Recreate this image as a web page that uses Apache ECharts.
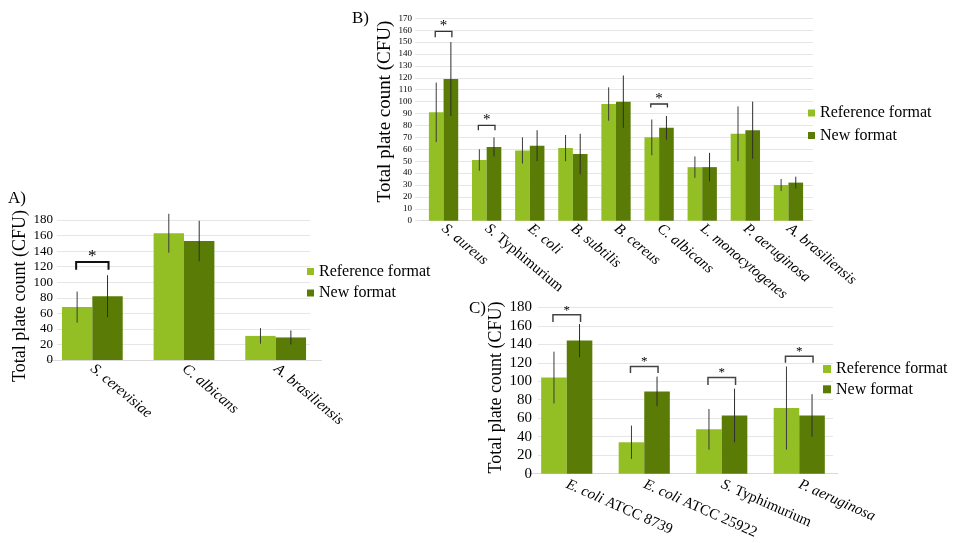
<!DOCTYPE html>
<html>
<head>
<meta charset="utf-8">
<script src="https://cdn.jsdelivr.net/npm/echarts@6/dist/echarts.min.js"></script>
<style>html,body{margin:0;padding:0;background:#fff}#c{width:957px;height:543px}</style>
</head>
<body>
<div id="c"></div>
<script>
// ---------- Data ----------
const seriesNames = ['Reference format', 'New format'];

// Panel A
const catsA = ['S. cerevisiae', 'C. albicans', 'A. brasiliensis'];
const refA = [68, 163, 31];
const newA = [82, 153, 29];
const refAErr = [20, 25, 10];
const newAErr = [27, 26, 9];
const sigA = [[0, 126, 116]]; // [category, bracket top, bracket foot]

// Panel B
const catsB = ['S. aureus', 'S. Typhimurium', 'E. coli', 'B. subtilis', 'B. cereus', 'C. albicans', 'L. monocytogenes', 'P. aeruginosa', 'A. brasiliensis'];
const refB = [91, 51, 59, 61, 98, 70, 45, 73, 30];
const newB = [119, 62, 63, 56, 100, 78, 45, 76, 32];
const refBErr = [25, 9, 11, 11, 14, 15, 9, 23, 5];
const newBErr = [31, 8, 13, 17, 22, 10, 12, 24, 5];
const sigB = [[0, 159, 154], [1, 80, 76], [5, 98, 95]];

// Panel C
const catsC = ['E. coli ATCC 8739', 'E. coli ATCC 25922', 'S. Typhimurium', 'P. aeruginosa'];
const refC = [104, 34, 48, 71];
const newC = [144, 89, 63, 63];
const refCErr = [28, 18, 22, 45];
const newCErr = [18, 16, 29, 23];
const sigC = [[0, 172, 164], [1, 116, 109], [2, 104, 96], [3, 127, 120]];

// ---------- Styling ----------
const SERIF = '"Liberation Serif", "DejaVu Serif", serif';
const COL_REF = '#93bf25';
const COL_NEW = '#5a7c07';
const YTITLE = 'Total plate count (CFU)';

function fmtCat(name) {
  let it = name, rest = '';
  const i = name.indexOf(' ATCC');
  if (i >= 0) { it = name.slice(0, i); rest = name.slice(i); }
  else if (name.indexOf(' Typhimurium') >= 0) { it = 'S.'; rest = name.slice(2); }
  return '{i|' + it + '}' + (rest ? '{n|' + rest + '}' : '');
}

function errRender(sign, gapPct, color) {
  return function (params, api) {
    const c = api.value(0);
    const lo = api.coord([c, api.value(1)]);
    const hi = api.coord([c, api.value(2)]);
    const band = api.size([1, 0])[0];
    const off = sign * band * (1 - gapPct) / 4;
    return { type: 'line', shape: { x1: lo[0] + off, y1: lo[1], x2: hi[0] + off, y2: hi[1] },
      style: { stroke: color, lineWidth: 1 } };
  };
}

function sigRender(gapPct, color, lw, starSize) {
  return function (params, api) {
    const c = api.value(0);
    const t = api.coord([c, api.value(1)]);
    const b = api.coord([c, api.value(2)]);
    const band = api.size([1, 0])[0];
    const h = band * (1 - gapPct) / 4 + 1;
    return { type: 'group', children: [
      { type: 'polyline', shape: { points: [[t[0] - h, b[1]], [t[0] - h, t[1]], [t[0] + h, t[1]], [t[0] + h, b[1]]] },
        style: { stroke: color, lineWidth: lw, fill: null } },
      { type: 'text', x: t[0], y: t[1] - starSize * 0.35,
        style: { text: '*', fontSize: starSize, fontFamily: SERIF, fill: '#000', align: 'center', verticalAlign: 'middle' } }
    ] };
  };
}

const grids = [], xAxes = [], yAxes = [], series = [], legends = [];

function addPanel(p) {
  const gi = grids.length;
  grids.push({ left: p.bars.left, width: p.bars.width, top: p.top, height: p.height });
  grids.push({ left: p.lines.left, width: p.lines.width, top: p.top, height: p.height });
  xAxes.push({
    type: 'category', gridIndex: gi, data: p.cats,
    axisTick: { show: false },
    axisLine: { show: true, lineStyle: { color: '#d9d9d9', width: 1 } },
    axisLabel: {
      interval: 0, rotate: p.rotate, margin: p.labelMargin, color: '#000',
      formatter: fmtCat,
      rich: {
        i: { fontFamily: SERIF, fontStyle: 'italic', fontSize: p.catSize, color: '#000' },
        n: { fontFamily: SERIF, fontSize: p.catSize, color: '#000' }
      }
    }
  });
  xAxes.push({ type: 'value', gridIndex: gi + 1, min: 0, max: 1, show: false });
  yAxes.push({ type: 'value', gridIndex: gi, min: 0, max: p.max, interval: p.interval, show: false, splitLine: { show: false } });
  yAxes.push({
    type: 'value', gridIndex: gi + 1, min: 0, max: p.max, interval: p.interval,
    axisLine: { show: false }, axisTick: { show: false },
    splitLine: { show: true, lineStyle: { color: '#e6e6e6', width: 1 } },
    axisLabel: { fontFamily: SERIF, fontSize: p.tickSize, color: '#000', margin: p.tickMargin },
    name: YTITLE, nameLocation: 'middle', nameRotate: 90, nameGap: p.nameGap,
    nameTextStyle: { fontFamily: SERIF, fontSize: p.nameSize, color: '#000', padding: p.namePad }
  });
  const common = { type: 'bar', xAxisIndex: gi, yAxisIndex: gi, barGap: '0%', barCategoryGap: (p.gap * 100) + '%', z: 2 };
  series.push(Object.assign({}, common, { name: seriesNames[0], data: p.ref, itemStyle: { color: COL_REF } }));
  series.push(Object.assign({}, common, { name: seriesNames[1], data: p.neu, itemStyle: { color: COL_NEW } }));
  series.push({
    type: 'custom', xAxisIndex: gi, yAxisIndex: gi, z: 4, clip: false, silent: true,
    renderItem: errRender(-1, p.gap, '#3b3b3b'), encode: { x: 0, y: [1, 2] },
    data: p.ref.map((v, i) => [i, v - p.refErr[i], v + p.refErr[i]])
  });
  series.push({
    type: 'custom', xAxisIndex: gi, yAxisIndex: gi, z: 4, clip: false, silent: true,
    renderItem: errRender(1, p.gap, '#2e2e2e'), encode: { x: 0, y: [1, 2] },
    data: p.neu.map((v, i) => [i, v - p.neuErr[i], v + p.neuErr[i]])
  });
  series.push({
    type: 'custom', xAxisIndex: gi, yAxisIndex: gi, z: 5, clip: false, silent: true,
    renderItem: sigRender(p.gap, p.sigColor, p.sigWidth, p.starSize), encode: { x: 0, y: [1, 2] },
    data: p.sig
  });
  legends.push({
    orient: 'vertical', left: p.legend.left, top: p.legend.top, padding: 0,
    itemGap: p.legend.gap, itemWidth: p.legend.icon, itemHeight: p.legend.icon, icon: 'rect',
    data: seriesNames, selectedMode: false,
    textStyle: { fontFamily: SERIF, fontSize: 16, color: '#000' }
  });
}

addPanel({
  cats: catsA, ref: refA, neu: newA, refErr: refAErr, neuErr: newAErr, sig: sigA,
  max: 180, interval: 20, top: 220, height: 140,
  bars: { left: 46.5, width: 275 }, lines: { left: 57, width: 253 },
  gap: 0.337, rotate: -40, labelMargin: 7, catSize: 15,
  tickSize: 13, tickMargin: 4, nameGap: 28, nameSize: 18, namePad: [0, 12, 0, 0],
  sigColor: '#111', sigWidth: 2, starSize: 17,
  legend: { left: 307, top: 263.5, gap: 5.5, icon: 7 }
});
addPanel({
  cats: catsB, ref: refB, neu: newB, refErr: refBErr, neuErr: newBErr, sig: sigB,
  max: 170, interval: 10, top: 18.3, height: 202.4,
  bars: { left: 422, width: 388 }, lines: { left: 415, width: 398 },
  gap: 0.32, rotate: -40, labelMargin: 6, catSize: 15,
  tickSize: 9, tickMargin: 3, nameGap: 20, nameSize: 19, namePad: [0, 0, 0, 16],
  sigColor: '#333', sigWidth: 1.3, starSize: 15,
  legend: { left: 808, top: 105, gap: 6.5, icon: 7 }
});
addPanel({
  cats: catsC, ref: refC, neu: newC, refErr: refCErr, neuErr: newCErr, sig: sigC,
  max: 180, interval: 20, top: 307.3, height: 166.4,
  bars: { left: 528, width: 310 }, lines: { left: 538, width: 295 },
  gap: 0.34, rotate: -24, labelMargin: 10, catSize: 15,
  tickSize: 15, tickMargin: 6, nameGap: 27, nameSize: 18, namePad: [0, 0, 0, 6],
  sigColor: '#444', sigWidth: 1.5, starSize: 13,
  legend: { left: 823, top: 361, gap: 4.3, icon: 8 }
});

const option = {
  animation: false,
  backgroundColor: '#fff',
  grid: grids, xAxis: xAxes, yAxis: yAxes, series: series, legend: legends,
  graphic: [
    { type: 'text', left: 8, top: 190, style: { text: 'A)', fontFamily: SERIF, fontSize: 17, fill: '#000' } },
    { type: 'text', left: 352, top: 10, style: { text: 'B)', fontFamily: SERIF, fontSize: 17, fill: '#000' } },
    { type: 'text', left: 469, top: 300, style: { text: 'C)', fontFamily: SERIF, fontSize: 17, fill: '#000' } }
  ]
};
const chart = echarts.init(document.getElementById('c'), null, { renderer: 'canvas' });
chart.setOption(option);
</script>
</body>
</html>
